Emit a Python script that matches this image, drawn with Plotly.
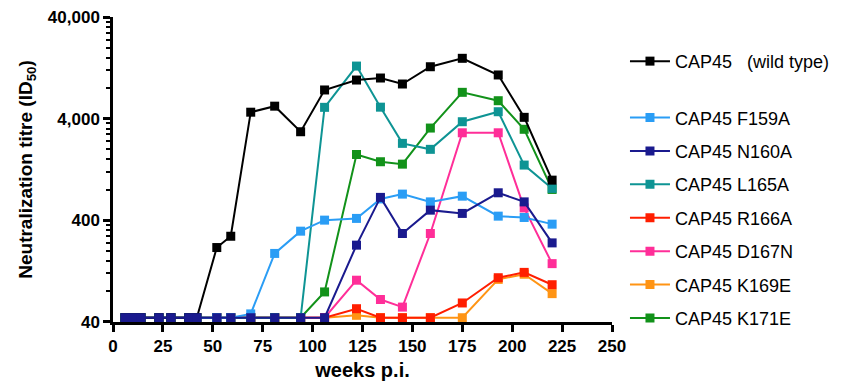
import plotly.graph_objects as go
import numpy as np

weeks = [6, 10, 14, 23, 29, 38, 42, 52, 59, 69, 81, 94, 106, 122, 134, 145, 159, 175, 193, 206, 220]

wild_type = [44]*7 + [216, 279, 4640, 5320, 2980, 7680, 9620, 10070, 8790, 13000, 15740, 10790, 4130, 995]
f159a = [44]*9 + [48, 189, 313, 402, 418, 650, 725, 608, 692, 440, 427, 367]
n160a = [44]*13 + [228, 673, 297, 504, 468, 747, 608, 240]
l165a = [44]*12 + [5180, 13200, 5200, 2290, 2000, 3740, 4690, 1400, 825]
r166a = [44]*13 + [54, 44, 44, 44, 61.5, 109, 123, 93]
d167n = [44]*13 + [103, 66.5, 56, 297, 2910, 2910, 530, 150]
k169e = [44]*13 + [46.5, 44, 44, 44, 44, 105, 118, 76]
k171e = [44]*12 + [79, 1780, 1510, 1430, 3240, 7280, 6020, 3150, 806]

y_ticks = [40, 400, 4000, 40000]
y_tick_labels = ["40", "400", "4,000", "40,000"]
x_ticks = list(range(0, 251, 25))

# (name, values, color, legend, rank) in drawing order (bottom first)
series = [
    ("CAP45 K169E", k169e, "#FF9414", "legend2", 7),
    ("CAP45 R166A", r166a, "#FF1E00", "legend2", 5),
    ("CAP45 D167N", d167n, "#FF2E98", "legend2", 6),
    ("CAP45 K171E", k171e, "#12921A", "legend2", 8),
    ("CAP45 L165A", l165a, "#0E9494", "legend2", 4),
    ("CAP45 F159A", f159a, "#2A9DF5", "legend2", 2),
    ("CAP45\u00a0\u00a0 (wild type)", wild_type, "#000000", "legend", 1),
    ("CAP45 N160A", n160a, "#1A1A8E", "legend2", 3),
]

fig = go.Figure()
for name, vals, color, leg, rank in series:
    fig.add_trace(go.Scatter(
        x=weeks, y=vals, name=name, mode="lines+markers",
        line=dict(color=color, width=2),
        marker=dict(symbol="square", size=9, color=color),
        legend=leg, legendrank=rank, legendgroup="g%d" % rank,
        showlegend=True,
    ))

minor_vals = []
for base in [40, 400, 4000]:
    minor_vals += [base * k for k in range(2, 10)]

font_family = "Liberation Sans, Arial, sans-serif"

fig.update_layout(
    width=840, height=373, showlegend=True,
    margin=dict(l=105, r=236, t=9, b=59, autoexpand=False),
    paper_bgcolor="white", plot_bgcolor="white",
    font=dict(family=font_family, color="black"),
    xaxis=dict(
        range=[0, 250], tickmode="array", tickvals=x_ticks,
        showline=True, linecolor="black", linewidth=2.5,
        ticks="outside", ticklen=7, tickwidth=2.5, tickcolor="black",
        tickfont=dict(size=17, weight="bold"),
        showgrid=False, zeroline=False, automargin=False,
        title=dict(text="weeks p.i.", font=dict(size=20, weight="bold"), standoff=9),
    ),
    yaxis=dict(
        type="log", range=[np.log10(40) - 0.0005, np.log10(40000) + 0.0015],
        tickmode="array", tickvals=y_ticks, ticktext=y_tick_labels,
        showline=True, linecolor="black", linewidth=2.5,
        ticks="outside", ticklen=7, tickwidth=2.5, tickcolor="black",
        tickfont=dict(size=17, weight="bold"),
        minor=dict(tickmode="array", tickvals=minor_vals, ticks="outside",
                   ticklen=4, tickwidth=1.5, tickcolor="black", showgrid=False),
        showgrid=False, zeroline=False, automargin=False,
        title=dict(text="Neutralization titre (ID<sub>50</sub>)",
                   font=dict(size=19, weight="bold"), standoff=11),
    ),
    legend=dict(x=1.026, y=0.915, xanchor="left", yanchor="top", itemwidth=40,
                font=dict(size=18), bgcolor="rgba(0,0,0,0)"),
    legend2=dict(x=1.026, y=0.73, xanchor="left", yanchor="top", itemwidth=40,
                 font=dict(size=18), bgcolor="rgba(0,0,0,0)", traceorder="grouped",
                 tracegroupgap=7),
)

fig.write_html("out.html")
